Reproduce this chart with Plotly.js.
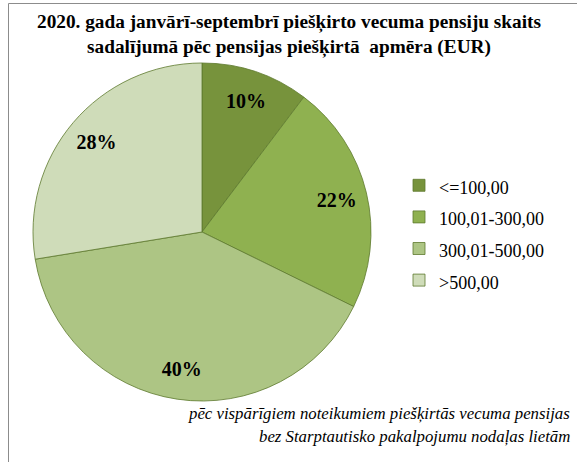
<!DOCTYPE html>
<html><head><meta charset="utf-8">
<script src="https://cdn.plot.ly/plotly-3.0.1.min.js"></script>
</head><body style="margin:0;background:#fff">
<div id="chart" style="width:577px;height:462px"></div>
<script>
const categories = ['<=100,00', '100,01-300,00', '300,01-500,00', '>500,00'];
const shares = [10.3, 22.0, 40.2, 27.6];
const sliceColors = ['#77933C', '#8FB150', '#ADC584', '#CFDCB9'];
const titleText = '2020. gada janvārī-septembrī piešķirto vecuma pensiju skaits<br>sadalījumā pēc pensijas piešķirtā  apmēra (EUR)';
const noteLines = ['pēc vispārīgiem noteikumiem piešķirtās vecuma pensijas', 'bez Starptautisko pakalpojumu nodaļas lietām'];

const SERIF = 'Liberation Serif';
const legendLabels = categories.map(c => '<span style="font-size:18px">' + c.replace(/</g,'&lt;').replace(/>/g,'&gt;') + '</span>');
const pieDomain = {x: [32/577, 372/577], y: [(462-401)/462, (462-63)/462]};

const slices = {
  type: 'pie',
  labels: legendLabels,
  values: shares,
  sort: false,
  direction: 'clockwise',
  rotation: 0,
  marker: {colors: sliceColors, line: {color: '#5E7A2E', width: 0.8}},
  textinfo: 'none',
  hoverinfo: 'label+percent',
  domain: pieDomain
};

const labelsRing = {
  type: 'pie',
  labels: legendLabels,
  values: shares,
  sort: false,
  direction: 'clockwise',
  rotation: 0,
  hole: 0.64,
  showlegend: false,
  marker: {colors: ['rgba(0,0,0,0)','rgba(0,0,0,0)','rgba(0,0,0,0)','rgba(0,0,0,0)'], line: {width: 0}},
  texttemplate: '<b>%{percent:.0%}</b>',
  textposition: 'inside',
  insidetextorientation: 'horizontal',
  textfont: {family: SERIF, size: 20, color: '#000'},
  hoverinfo: 'skip',
  domain: pieDomain
};

const layout = {
  width: 577, height: 462,
  margin: {l: 0, r: 0, t: 0, b: 0},
  paper_bgcolor: '#fff',
  font: {family: SERIF},
  showlegend: true,
  legend: {x: 399/577, xanchor: 'left', y: 1 - 233/462, yanchor: 'middle',
           font: {family: SERIF, size: 22, color: '#000'}, bgcolor: 'rgba(0,0,0,0)'},
  annotations: [
    {text: '<b>' + titleText + '</b>', xref: 'paper', yref: 'paper', x: 0.5, y: 1 - 34.5/462,
     xanchor: 'center', yanchor: 'middle', align: 'center', showarrow: false,
     font: {family: SERIF, size: 19.3, color: '#000'}},
    {text: '<i>' + noteLines[0] + '</i>', xref: 'paper', yref: 'paper', x: 572/577, y: 1 - 413/462,
     xanchor: 'right', yanchor: 'middle', showarrow: false,
     font: {family: SERIF, size: 16.8, color: '#000'}},
    {text: '<i>' + noteLines[1] + '</i>', xref: 'paper', yref: 'paper', x: 572/577, y: 1 - 436/462,
     xanchor: 'right', yanchor: 'middle', showarrow: false,
     font: {family: SERIF, size: 16.8, color: '#000'}}
  ],
  shapes: [{type: 'rect', xref: 'paper', yref: 'paper', x0: 8.5/577, x1: 1.02, y0: -0.02, y1: 1 - 3.5/462,
            line: {color: '#8C8C8C', width: 1}, fillcolor: 'rgba(0,0,0,0)', layer: 'below'}]
};

Plotly.newPlot('chart', [slices, labelsRing], layout, {displayModeBar: false, staticPlot: true});
</script>
</body></html>
